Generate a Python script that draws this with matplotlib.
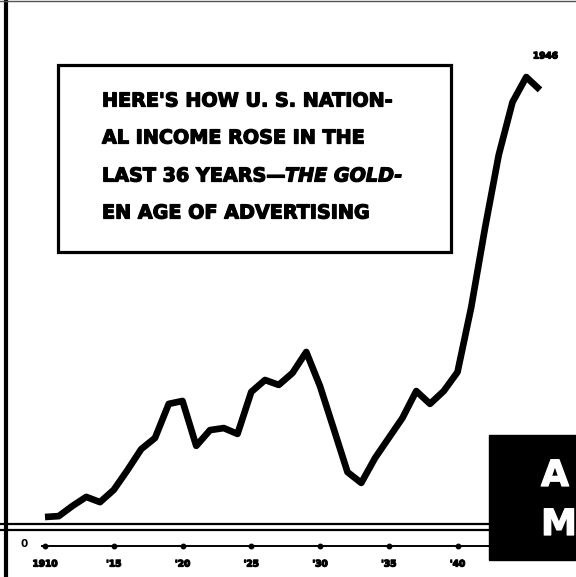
import matplotlib.pyplot as plt
import matplotlib.patheffects as pe
from matplotlib.patches import Rectangle

# US national income, billions of dollars
years = list(range(1910, 1947))
income = [30.0, 30.3, 33.8, 36.9, 35.1, 39.3, 46.1, 53.3, 57.1, 68.8,
          69.8, 54.4, 59.8, 60.5, 58.5, 72.9, 77.0, 75.3, 79.4, 86.6,
          74.9, 60.2, 45.4, 41.7, 50.2, 57.1, 64.0, 73.2, 68.8, 73.2,
          79.7, 102.0, 129.1, 154.2, 172.3, 180.9, 176.5]

tick_years = [1910, 1915, 1920, 1925, 1930, 1935, 1940]
tick_labels = ['1910', "'15", "'20", "'25", "'30", "'35", "'40"]

title_lines = ["HERE'S HOW U. S. NATION-",
               "AL INCOME ROSE IN THE",
               "LAST 36 YEARS\u2014",
               "EN AGE OF ADVERTISING"]
title_italic = "THE GOLD-"

W, H = 576, 577
fig = plt.figure(figsize=(W / 100, H / 100), dpi=100)
ax = fig.add_axes([0, 0, 1, 1])
ax.axis('off')

# chart scale: 1910 at x=45px, 13.75px per year; 30bn at y=517px, 0.343bn per px
ax.set_xlim(1910 - 45 / 13.75, 1910 + (W - 45) / 13.75)
ax.set_ylim(30 - (H - 517) * 0.343, 30 + 517 * 0.343)


def fx(px):
    return px / W


def fy(py):
    return 1 - py / H


font = 'DejaVu Sans'
heavy = [pe.withStroke(linewidth=0.9, foreground='black')]
heavy_w = [pe.withStroke(linewidth=0.9, foreground='white')]

# the income line
ax.plot(years, income, color='black', lw=4.8, solid_joinstyle='round',
        solid_capstyle='butt', zorder=3)

# left border and faint top rule
ax.plot([fx(6), fx(6)], [0, 1], transform=ax.transAxes, color='black', lw=3)
ax.plot([0, 1], [fy(1), fy(1)], transform=ax.transAxes, color='#555555', lw=1)

# axis break lines
for py in (524, 530):
    ax.plot([0, fx(490)], [fy(py), fy(py)], transform=ax.transAxes,
            color='black', lw=1.6)

# zero line with year dots
base = fy(546)
ax.plot([fx(42), fx(490)], [base, base], transform=ax.transAxes,
        color='black', lw=1.4)
ax.plot(tick_years, [base] * len(tick_years), 'o', color='black', ms=3.2,
        transform=ax.get_xaxis_transform())
ax.text(fx(24), fy(544), '0', transform=ax.transAxes, ha='center',
        va='center', fontsize=7.5, fontweight='bold', family=font)
for yr, lab in zip(tick_years, tick_labels):
    ax.text(yr, fy(564), lab, transform=ax.get_xaxis_transform(),
            ha='center', va='center', fontsize=6.5, fontweight='bold',
            family=font, path_effects=heavy)

ax.text(years[-1] + 0.4, fy(56), '1946', transform=ax.get_xaxis_transform(),
        ha='center', va='center', fontsize=6.5, fontweight='bold',
        family=font, path_effects=heavy)

# title box
ax.add_patch(Rectangle((fx(58), fy(252)), fx(451) - fx(58), fy(65) - fy(252),
                       transform=ax.transAxes, fill=False, ec='black', lw=2.3))
line_y = [101, 138, 176, 213]
texts = []
for s, py in zip(title_lines, line_y):
    t = ax.text(fx(102), fy(py), s, transform=ax.transAxes, ha='left',
                va='center', fontsize=13.8, fontweight='bold', family=font,
                path_effects=heavy)
    texts.append(t)
ax.annotate(title_italic, xy=(1, 0), xycoords=texts[2], ha='left',
            va='bottom', fontsize=13.8, fontweight='bold', style='italic',
            family=font, path_effects=heavy)

# black panel at bottom right
ax.add_patch(Rectangle((fx(489), fy(560)), 1 - fx(489), fy(435) - fy(560),
                       transform=ax.transAxes, color='black', zorder=4))
ax.text(fx(541), fy(476), 'A', transform=ax.transAxes, ha='left',
        va='center', color='white', fontsize=26, fontweight='bold',
        family=font, zorder=5, path_effects=heavy_w)
ax.text(fx(541), fy(525), 'M', transform=ax.transAxes, ha='left',
        va='center', color='white', fontsize=26, fontweight='bold',
        family=font, zorder=5, path_effects=heavy_w)

fig.savefig('out.png', dpi=100)
